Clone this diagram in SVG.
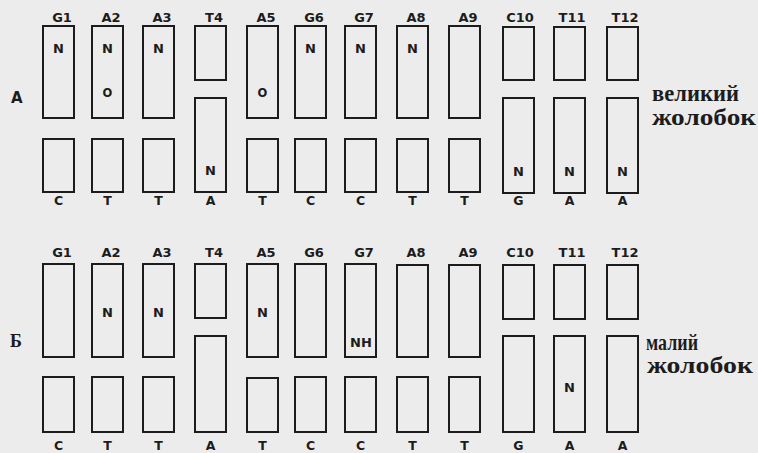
<svg xmlns="http://www.w3.org/2000/svg" width="758" height="453" viewBox="0 0 758 453">
<style>
.bg{fill:#ececec}
.b{fill:none;stroke:#1c1c1c;stroke-width:2}
.lb{font-family:"DejaVu Sans","Liberation Sans",sans-serif;font-weight:bold;font-size:13px;fill:#1c1c1c;text-anchor:middle}
.bl{font-family:"DejaVu Sans","Liberation Sans",sans-serif;font-weight:bold;font-size:12.5px;fill:#1c1c1c;text-anchor:middle}
.in{font-family:"DejaVu Sans","Liberation Sans",sans-serif;font-weight:bold;font-size:13px;fill:#1c1c1c;text-anchor:middle}
.o{font-size:11.5px}
.gr{font-family:"Liberation Serif","DejaVu Serif",serif;font-weight:bold;font-size:23px;fill:#1c1c1c}
.pn{font-family:"DejaVu Sans","Liberation Sans",sans-serif;font-weight:bold;font-size:15px;fill:#1c1c1c}
.pb{font-family:"Liberation Serif","DejaVu Serif",serif;font-weight:bold;font-size:18px;fill:#1c1c1c}
</style>
<rect class="bg" x="0" y="0" width="758" height="453"/>

<!-- Panel A -->
<g id="panelA">
<text class="pn" x="11" y="103">A</text>
<g id="A-G1"><text class="lb" x="62" y="22">G1</text><rect class="b" x="43" y="26" width="31" height="92"/><rect class="b" x="43" y="139" width="31" height="53"/><text class="in" x="58.5" y="53">N</text><text class="bl" x="58.5" y="205">C</text></g>
<g id="A-A2"><text class="lb" x="111" y="22">A2</text><rect class="b" x="92" y="26" width="31" height="92"/><rect class="b" x="92" y="139" width="31" height="53"/><text class="in" x="107.5" y="53">N</text><text class="in o" x="107.5" y="97">O</text><text class="bl" x="107.5" y="205">T</text></g>
<g id="A-A3"><text class="lb" x="162" y="22">A3</text><rect class="b" x="143" y="26" width="31" height="92"/><rect class="b" x="143" y="139" width="31" height="53"/><text class="in" x="158.5" y="53">N</text><text class="bl" x="158.5" y="205">T</text></g>
<g id="A-T4"><text class="lb" x="214" y="22">T4</text><rect class="b" x="195" y="26" width="31" height="54"/><rect class="b" x="195" y="98" width="31" height="94"/><text class="in" x="210.5" y="175">N</text><text class="bl" x="210.5" y="205">A</text></g>
<g id="A-A5"><text class="lb" x="266" y="22">A5</text><rect class="b" x="247" y="26" width="31" height="92"/><rect class="b" x="247" y="139" width="31" height="53"/><text class="in o" x="262.5" y="97">O</text><text class="bl" x="262.5" y="205">T</text></g>
<g id="A-G6"><text class="lb" x="314" y="22">G6</text><rect class="b" x="295" y="26" width="31" height="92"/><rect class="b" x="295" y="139" width="31" height="53"/><text class="in" x="310.5" y="53">N</text><text class="bl" x="310.5" y="205">C</text></g>
<g id="A-G7"><text class="lb" x="364" y="22">G7</text><rect class="b" x="345" y="26" width="31" height="92"/><rect class="b" x="345" y="139" width="31" height="53"/><text class="in" x="360.5" y="53">N</text><text class="bl" x="360.5" y="205">C</text></g>
<g id="A-A8"><text class="lb" x="416" y="22">A8</text><rect class="b" x="397" y="26" width="31" height="92"/><rect class="b" x="397" y="139" width="31" height="53"/><text class="in" x="412.5" y="53">N</text><text class="bl" x="412.5" y="205">T</text></g>
<g id="A-A9"><text class="lb" x="468" y="22">A9</text><rect class="b" x="449" y="26" width="31" height="92"/><rect class="b" x="449" y="139" width="31" height="53"/><text class="bl" x="464.5" y="205">T</text></g>
<g id="A-C10"><text class="lb" x="520" y="22">C10</text><rect class="b" x="503" y="27" width="31" height="53"/><rect class="b" x="503" y="98" width="31" height="95"/><text class="in" x="518.5" y="176">N</text><text class="bl" x="518.5" y="205">G</text></g>
<g id="A-T11"><text class="lb" x="572" y="22">T11</text><rect class="b" x="554" y="27" width="31" height="53"/><rect class="b" x="554" y="98" width="31" height="95"/><text class="in" x="569.5" y="176">N</text><text class="bl" x="569.5" y="205">A</text></g>
<g id="A-T12"><text class="lb" x="625" y="22">T12</text><rect class="b" x="607" y="27" width="31" height="53"/><rect class="b" x="607" y="98" width="31" height="95"/><text class="in" x="622.5" y="176">N</text><text class="bl" x="622.5" y="205">A</text></g>
<text class="gr" x="652" y="101" textLength="87" lengthAdjust="spacingAndGlyphs">великий</text>
<text class="gr" x="652" y="125" textLength="104" lengthAdjust="spacingAndGlyphs">жолобок</text>
</g>

<!-- Panel Б -->
<g id="panelB">
<text class="pb" x="10" y="347">Б</text>
<g id="B-G1"><text class="lb" x="62" y="257">G1</text><rect class="b" x="43" y="264" width="31" height="93"/><rect class="b" x="43" y="377" width="31" height="55"/><text class="bl" x="58.5" y="450">C</text></g>
<g id="B-A2"><text class="lb" x="111" y="257">A2</text><rect class="b" x="92" y="264" width="31" height="93"/><rect class="b" x="92" y="377" width="31" height="55"/><text class="in" x="107.5" y="317">N</text><text class="bl" x="107.5" y="450">T</text></g>
<g id="B-A3"><text class="lb" x="162" y="257">A3</text><rect class="b" x="143" y="264" width="31" height="93"/><rect class="b" x="143" y="377" width="31" height="55"/><text class="in" x="158.5" y="317">N</text><text class="bl" x="158.5" y="450">T</text></g>
<g id="B-T4"><text class="lb" x="214" y="257">T4</text><rect class="b" x="195" y="264" width="31" height="54"/><rect class="b" x="195" y="336" width="31" height="96"/><text class="bl" x="210.5" y="450">A</text></g>
<g id="B-A5"><text class="lb" x="266" y="257">A5</text><rect class="b" x="247" y="264" width="31" height="93"/><rect class="b" x="247" y="378" width="31" height="54"/><text class="in" x="262.5" y="317">N</text><text class="bl" x="262.5" y="450">T</text></g>
<g id="B-G6"><text class="lb" x="314" y="257">G6</text><rect class="b" x="295" y="264" width="31" height="93"/><rect class="b" x="295" y="377" width="31" height="55"/><text class="bl" x="310.5" y="450">C</text></g>
<g id="B-G7"><text class="lb" x="364" y="257">G7</text><rect class="b" x="345" y="264" width="31" height="93"/><rect class="b" x="345" y="377" width="31" height="55"/><text class="in" x="361" y="347">NH</text><text class="bl" x="360.5" y="450">C</text></g>
<g id="B-A8"><text class="lb" x="416" y="257">A8</text><rect class="b" x="397" y="265" width="31" height="92"/><rect class="b" x="397" y="377" width="31" height="55"/><text class="bl" x="412.5" y="450">T</text></g>
<g id="B-A9"><text class="lb" x="468" y="257">A9</text><rect class="b" x="449" y="265" width="31" height="92"/><rect class="b" x="449" y="377" width="31" height="55"/><text class="bl" x="464.5" y="450">T</text></g>
<g id="B-C10"><text class="lb" x="520" y="257">C10</text><rect class="b" x="503" y="265" width="31" height="54"/><rect class="b" x="503" y="336" width="31" height="96"/><text class="bl" x="518.5" y="450">G</text></g>
<g id="B-T11"><text class="lb" x="572" y="257">T11</text><rect class="b" x="554" y="265" width="31" height="54"/><rect class="b" x="554" y="336" width="31" height="96"/><text class="in" x="569.5" y="392">N</text><text class="bl" x="569.5" y="450">A</text></g>
<g id="B-T12"><text class="lb" x="625" y="257">T12</text><rect class="b" x="607" y="265" width="31" height="54"/><rect class="b" x="607" y="336" width="31" height="96"/><text class="bl" x="622.5" y="450">A</text></g>
<text class="gr" x="646" y="350" textLength="52" lengthAdjust="spacingAndGlyphs">малий</text>
<text class="gr" x="647" y="373" textLength="106" lengthAdjust="spacingAndGlyphs">жолобок</text>
</g>
<g id="connectors"/>
</svg>
